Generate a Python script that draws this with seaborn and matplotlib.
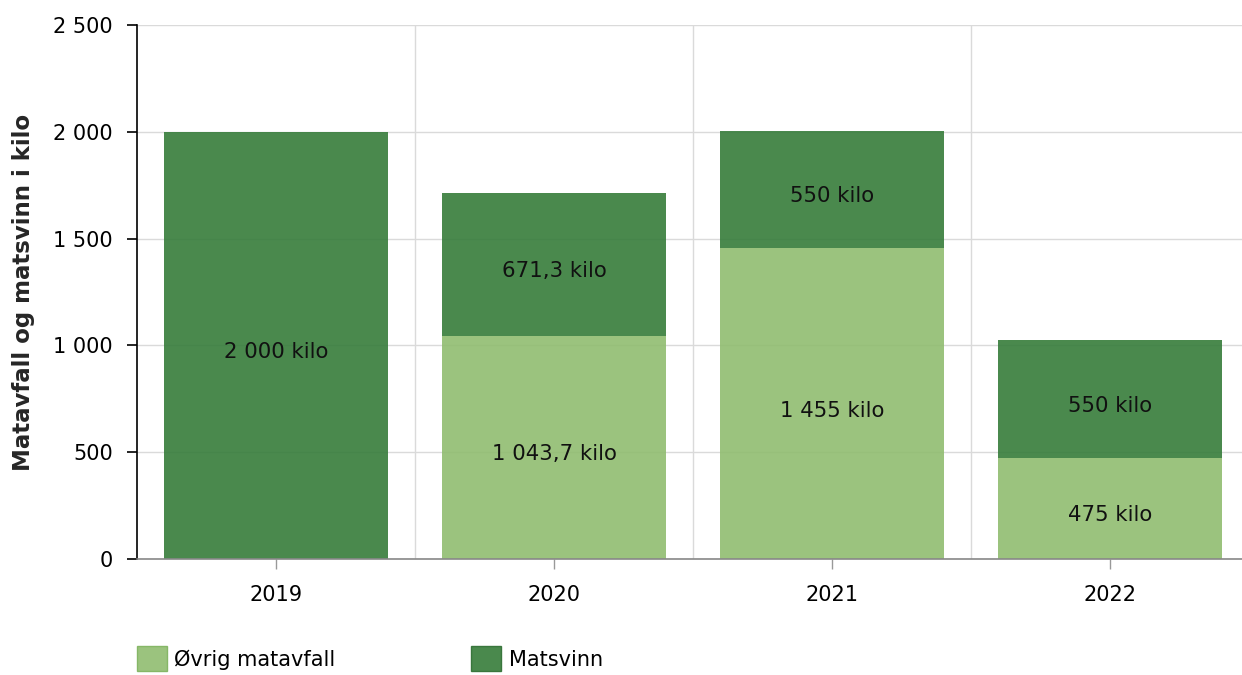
import numpy as np
import pandas as pd
import matplotlib
matplotlib.use("Agg")
import matplotlib.pyplot as plt
import seaborn as sns
from matplotlib.patches import Patch
from matplotlib.ticker import FuncFormatter, FixedLocator

# data
years = ["2019", "2020", "2021", "2022"]
ovrig = [0, 1043.7, 1455, 475]
matsvinn = [2000, 671.3, 550, 550]
series_names = ["Øvrig matavfall", "Matsvinn"]

light = "#90bd70"
dark = "#367c3a"


def fmt_num(v):
    s = f"{v:,.1f}" if v % 1 else f"{v:,.0f}"
    return s.replace(",", " ").replace(".", ",")


df = pd.DataFrame({"year": years, "ovrig": ovrig, "matsvinn": matsvinn})

sns.set_style("white")
plt.rcParams["font.family"] = ["DejaVu Sans"]
plt.rcParams["text.color"] = "black"
plt.rcParams["xtick.color"] = "black"
plt.rcParams["ytick.color"] = "black"

fig = plt.figure(figsize=(12.42, 6.75), dpi=100)
ax = fig.add_axes([0.1103, 0.1719, 0.8953, 0.7911])

sns.barplot(data=df, x="year", y="ovrig", color=light, alpha=0.9,
            width=0.806, saturation=1, linewidth=0, ax=ax, zorder=2)
sns.barplot(data=df, x="year", y="matsvinn", bottom=df["ovrig"].values,
            color=dark, alpha=0.9, width=0.806, saturation=1, linewidth=0,
            ax=ax, zorder=2)

# segment labels
for i, (a, b) in enumerate(zip(ovrig, matsvinn)):
    if a > 0:
        ax.annotate(f"{fmt_num(a)} kilo", (i, a / 2), xytext=(0, -5),
                    textcoords="offset points", ha="center", va="center",
                    fontsize=15.3, color="#111111", zorder=3)
    if b > 0:
        ax.annotate(f"{fmt_num(b)} kilo", (i, a + b / 2), xytext=(0, -5),
                    textcoords="offset points", ha="center", va="center",
                    fontsize=15.3, color="#111111", zorder=3)

ax.set_xlim(-0.5, 3.5)
ax.set_ylim(0, 2500)
ax.set_yticks(np.arange(0, 2501, 500))
ax.yaxis.set_major_formatter(FuncFormatter(lambda v, p: fmt_num(v)))
ax.xaxis.set_minor_locator(FixedLocator([0.5, 1.5, 2.5]))

ax.grid(axis="y", which="major", color="#dadada", lw=1, zorder=0)
ax.grid(axis="x", which="minor", color="#dadada", lw=1, zorder=0)
ax.set_axisbelow(True)

for s in ["top", "right"]:
    ax.spines[s].set_visible(False)
ax.spines["left"].set_color("black")
ax.spines["left"].set_linewidth(1.2)
ax.spines["bottom"].set_color("#888888")
ax.spines["bottom"].set_linewidth(1.2)

ax.tick_params(axis="y", which="major", left=True, length=7.5, width=1.2,
               color="black", labelsize=15, pad=10)
ax.tick_params(axis="x", which="major", bottom=True, length=7, width=1,
               color="#999999", labelsize=15, pad=12)
ax.tick_params(axis="x", which="minor", length=0)

ax.set_xlabel("")
ax.set_ylabel("Matavfall og matsvinn i kilo", fontsize=16.5,
              fontweight="bold", labelpad=13)

handles = [Patch(facecolor=light, edgecolor="#7fb35e", alpha=0.9),
           Patch(facecolor=dark, edgecolor="#2e6e32", alpha=0.9)]
fig.legend(handles, series_names, loc="upper left",
           bbox_to_anchor=(137 / 1242, 1 - 646 / 675), ncol=2, frameon=False,
           fontsize=15, handlelength=1.45, handleheight=1.5,
           handletextpad=0.35, columnspacing=6.5, borderpad=0,
           borderaxespad=0)

fig.savefig("out.png", dpi=100)
